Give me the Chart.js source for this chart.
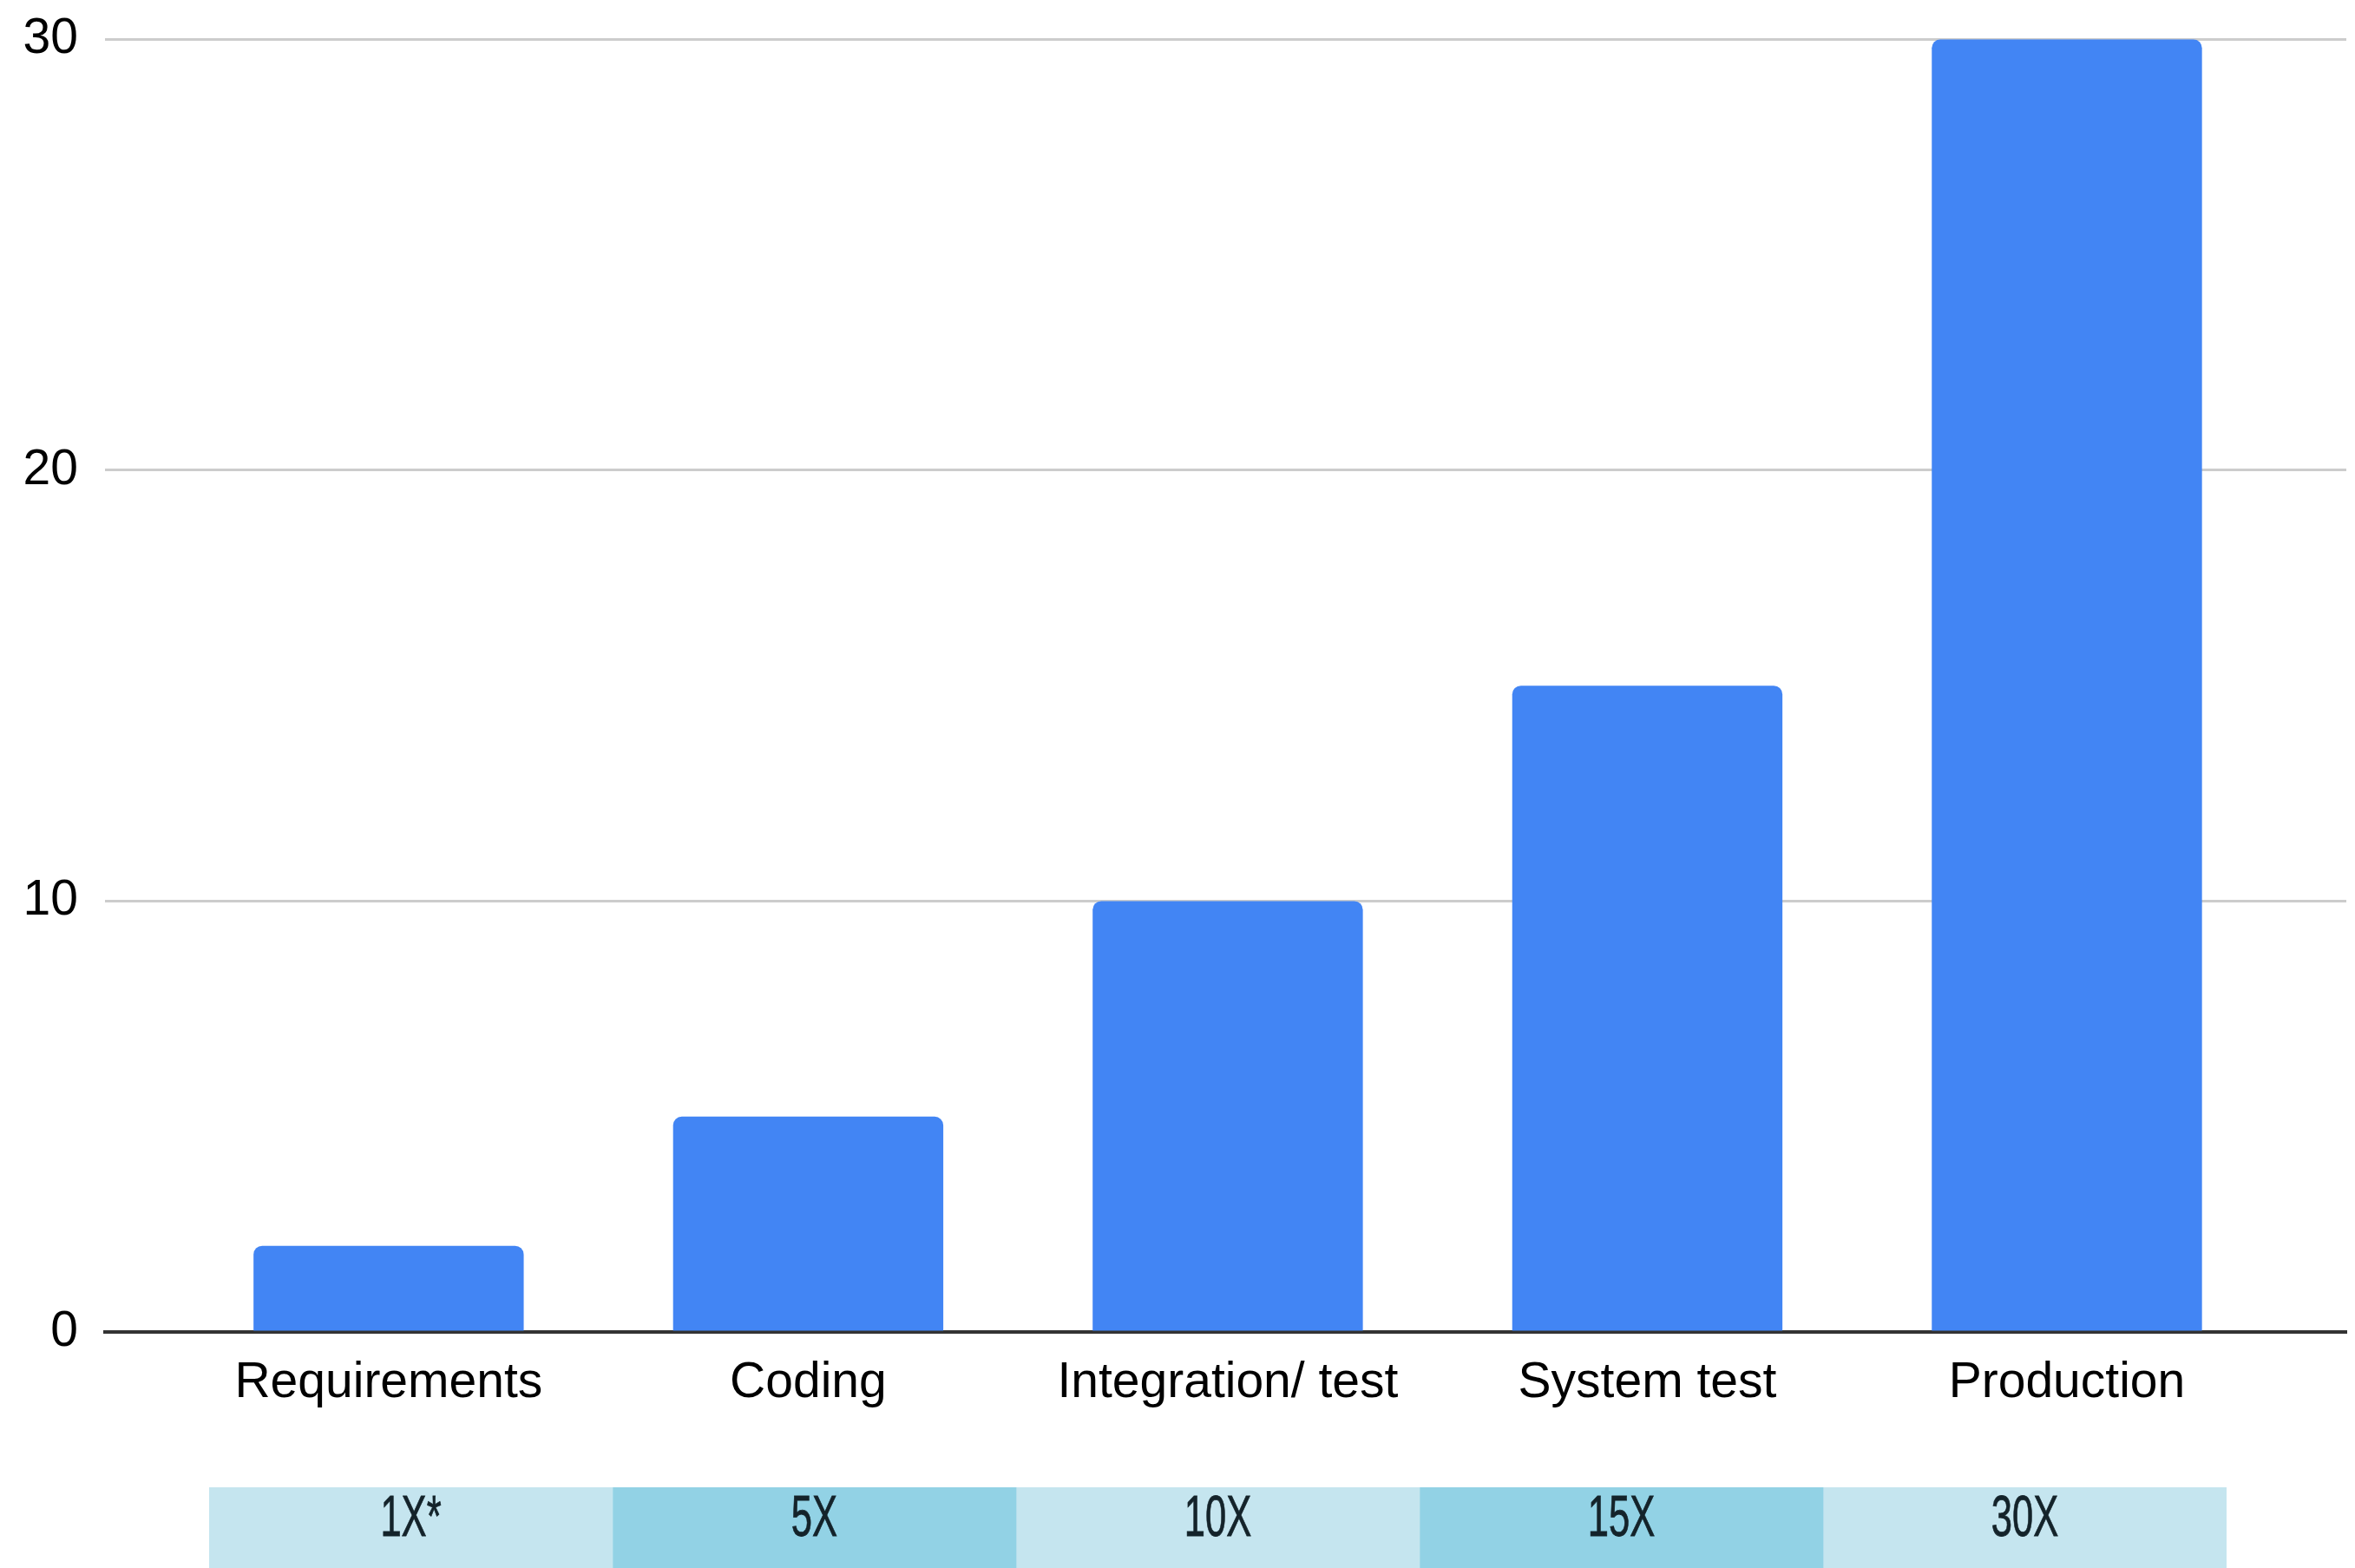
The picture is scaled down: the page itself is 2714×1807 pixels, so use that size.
<!DOCTYPE html>
<html>
<head>
<meta charset="utf-8">
<script src="https://cdn.jsdelivr.net/npm/chart.js@4/dist/chart.umd.min.js"></script>
<style>
  html, body { margin: 0; padding: 0; background: #fff; }
  body { width: 2714px; height: 1807px; position: relative; overflow: hidden; }
  #mainWrap { position: absolute; left: 0; top: 0; width: 2714px; height: 1700px; }
  #boxWrap { position: absolute; left: 241px; top: 1714px; width: 2325px; height: 93px; }
</style>
</head>
<body>
<div id="mainWrap"><canvas id="costChart"></canvas></div>
<div id="boxWrap"><canvas id="factorRow"></canvas></div>
<script>
// ===== DATA =====
const phases = ['Requirements', 'Coding', 'Integration/ test', 'System test', 'Production'];
const relativeCost = [2, 5, 10, 15, 30];
const yTicks = [0, 10, 20, 30];
const factorLabels = ['1X*', '5X', '10X', '15X', '30X'];
const factorColors = ['#c5e5ef', '#92d2e5', '#c5e5ef', '#92d2e5', '#c5e5ef'];

const FONT = "'Liberation Sans', Arial, Helvetica, sans-serif";

// ===== MAIN BAR CHART =====
new Chart(document.getElementById('costChart'), {
  type: 'bar',
  data: {
    datasets: [{
      data: relativeCost.map((v, i) => ({ x: i, y: v })),
      backgroundColor: '#4285f4',
      borderWidth: 0,
      borderRadius: { topLeft: 10, topRight: 10, bottomLeft: 0, bottomRight: 0 },
      borderSkipped: 'start',
      categoryPercentage: 1,
      barPercentage: 0.644
    }]
  },
  options: {
    responsive: true,
    maintainAspectRatio: false,
    animation: false,
    layout: { padding: { top: 42, right: 10, bottom: 0, left: 0 } },
    plugins: { legend: { display: false }, tooltip: { enabled: false } },
    scales: {
      x: {
        type: 'linear',
        offset: false,
        min: -0.676,
        max: 4.666,
        afterBuildTicks: s => { s.ticks = phases.map((p, i) => ({ value: i })); },
        afterFit: s => { s.height = 165; },
        grid: { display: false, drawTicks: false, offset: false },
        border: { display: true, color: '#333333', width: 4 },
        ticks: {
          autoSkip: false, maxRotation: 0, padding: 25,
          color: '#000000', font: { family: FONT, size: 57 },
          callback: v => phases[v] || ''
        }
      },
      y: {
        min: 0,
        max: 30,
        afterBuildTicks: s => { s.ticks = yTicks.map(v => ({ value: v })); },
        afterFit: s => { s.width = 121; },
        grid: { color: '#cccccc', lineWidth: 3, drawTicks: false },
        border: { display: false },
        ticks: { padding: 31, color: '#000000', font: { family: FONT, size: 57, lineHeight: 0.5 } }
      }
    }
  }
});

// ===== FACTOR ROW (stacked horizontal bar) =====
const factorText = {
  id: 'factorText',
  afterDatasetsDraw(chart) {
    const ctx = chart.ctx;
    ctx.save();
    ctx.fillStyle = '#14232a';
    ctx.strokeStyle = '#14232a';
    ctx.lineWidth = 0.8;
    ctx.font = '66px ' + FONT;
    ctx.textAlign = 'center';
    ctx.textBaseline = 'middle';
    chart.data.datasets.forEach((ds, i) => {
      const el = chart.getDatasetMeta(i).data[0];
      const c = el.getCenterPoint();
      const top = el.y - el.height / 2;
      ctx.save();
      ctx.translate(c.x, top + 38);
      ctx.scale(0.66, 1);
      ctx.fillText(ds.label, 0, 0);
      ctx.strokeText(ds.label, 0, 0);
      ctx.restore();
    });
    ctx.restore();
  }
};

new Chart(document.getElementById('factorRow'), {
  type: 'bar',
  data: {
    labels: [''],
    datasets: factorLabels.map((l, i) => ({
      label: l, data: [1], backgroundColor: factorColors[i], borderWidth: 0,
      categoryPercentage: 1, barPercentage: 1
    }))
  },
  options: {
    indexAxis: 'y',
    responsive: true,
    maintainAspectRatio: false,
    animation: false,
    layout: { padding: 0 },
    plugins: { legend: { display: false }, tooltip: { enabled: false } },
    scales: {
      x: { stacked: true, min: 0, max: factorLabels.length, display: false },
      y: { stacked: true, display: false }
    }
  },
  plugins: [factorText]
});
</script>
</body>
</html>
